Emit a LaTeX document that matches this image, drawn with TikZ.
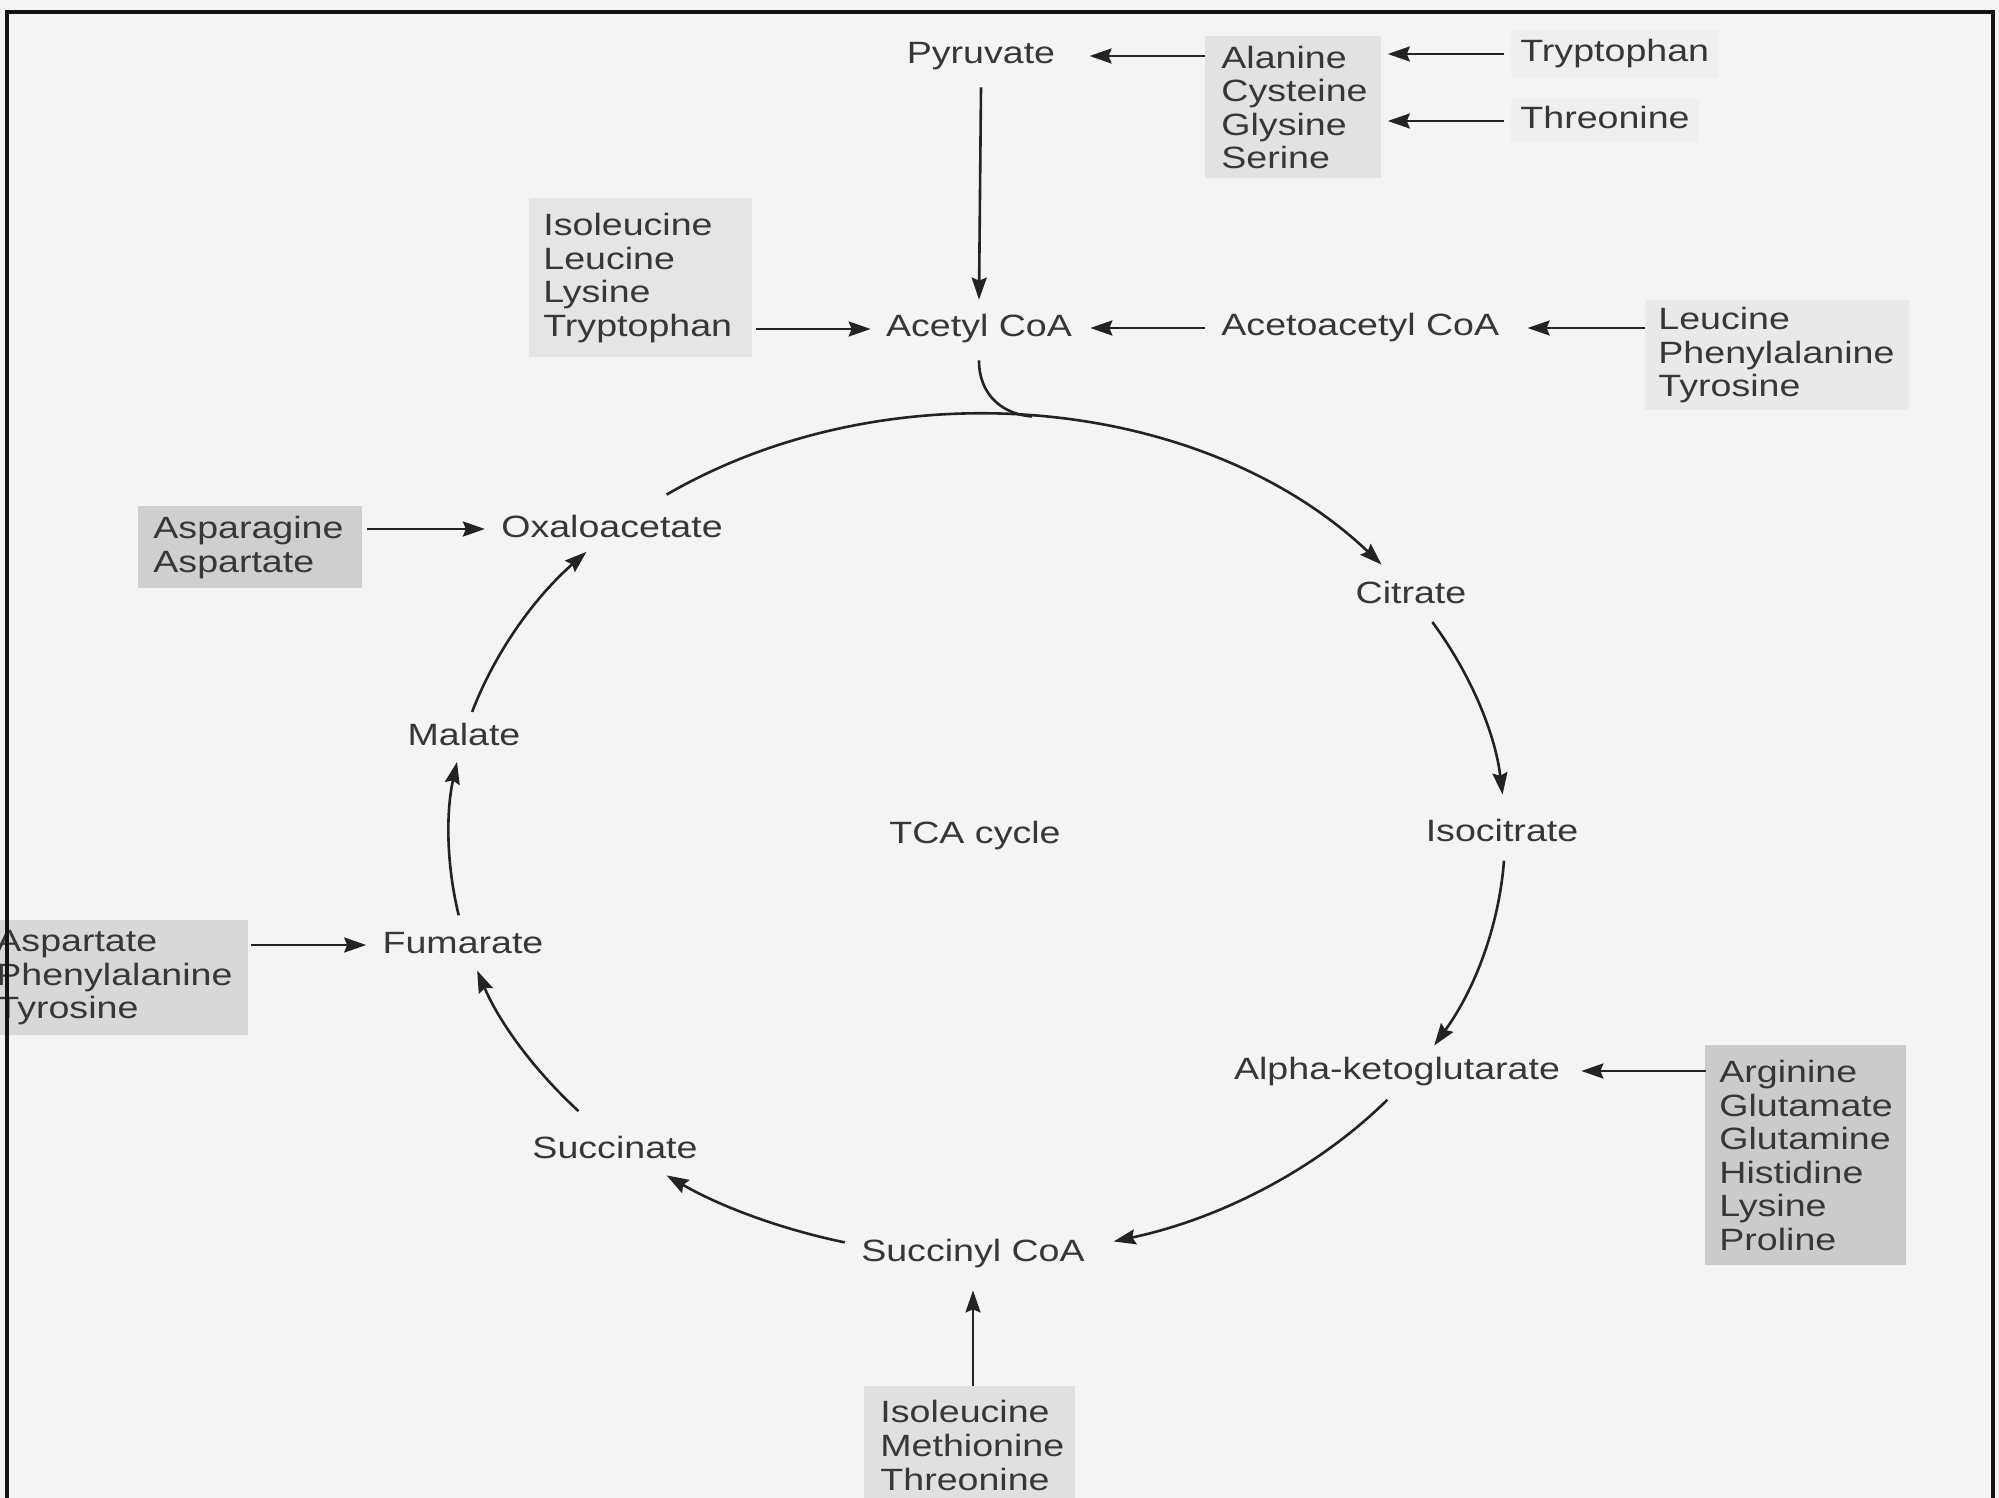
\documentclass[tikz,border=0pt]{standalone}
\usepackage{fontspec}
\setmainfont{Liberation Sans}[FakeStretch=1.22]
\usetikzlibrary{arrows.meta,calc}
\definecolor{bgc}{RGB}{244,244,244}
\definecolor{txtc}{RGB}{55,55,55}
\definecolor{linec}{RGB}{35,35,35}
\definecolor{alac}{RGB}{226,226,226}
\definecolor{isoc}{RGB}{229,229,229}
\definecolor{leuc}{RGB}{233,233,233}
\definecolor{aspc}{RGB}{207,207,207}
\definecolor{aspbc}{RGB}{216,216,216}
\definecolor{argc}{RGB}{203,203,203}
\definecolor{botc}{RGB}{224,224,224}
\definecolor{faintc}{RGB}{239,239,239}
\begin{document}
\begin{tikzpicture}[x=0.5pt,y=-0.5pt,
  txt/.style={font=\fontsize{15.4}{16.8}\selectfont, text=txtc, inner sep=0pt, text height=11pt, text depth=3pt},
  box/.style={font=\fontsize{15.4}{16.8}\selectfont, text=txtc, anchor=north west, inner ysep=0pt, align=left},
  arr/.style={draw=linec, line width=1.3pt, -{Stealth[length=11pt,width=7.5pt,inset=1.5pt]}},
  ln/.style={draw=linec, line width=1.3pt},
  cyc/.style={x radius=264pt, y radius=210.4pt},
  framel/.style={draw=black!92, line width=1.6pt}]
\useasboundingbox (0,0) rectangle (1999,1498);
\clip (0,0) rectangle (1999,1498);
\fill[bgc] (0,0) rectangle (1999,1498);

% gray boxes with amino acids
\node[box, fill=alac, text width=72pt, inner xsep=8pt, minimum height=71pt] (alabox) at (1205,36) {Alanine\\Cysteine\\Glysine\\Serine};
\node[box, fill=isoc, text width=97.5pt, inner xsep=7pt, minimum height=79.5pt] (isobox) at (529,198) {Isoleucine\\Leucine\\Lysine\\Tryptophan};
\node[box, fill=leuc, text width=119pt, inner xsep=6.5pt, minimum height=55pt] (leubox) at (1645,300) {Leucine\\Phenylalanine\\Tyrosine};
\node[box, fill=aspc, text width=97pt, inner xsep=7.5pt, minimum height=41pt] (aspbox) at (138,506) {Asparagine\\Aspartate};
\node[box, fill=aspbc, text width=116pt, inner xsep=10pt, minimum height=57.5pt] (aspbox2) at (-24,920) {Aspartate\\Phenylalanine\\Tyrosine};
\node[box, fill=argc, text width=86.5pt, inner xsep=7pt, minimum height=110pt] (argbox) at (1705,1045) {Arginine\\Glutamate\\Glutamine\\Histidine\\Lysine\\Proline};
\node[box, fill=botc, text width=89.5pt, inner xsep=8pt, minimum height=59pt] (botbox) at (864,1386) {Isoleucine\\Methionine\\Threonine};

% single labels
\node[txt, fill=faintc, anchor=west, inner xsep=4.5pt, minimum height=24pt] (trp) at (1511,54) {Tryptophan};
\node[txt, fill=faintc, anchor=west, inner xsep=4.5pt, minimum height=22pt] (thr) at (1511,121) {Threonine};
\node[txt] (pyr) at (981,56) {Pyruvate};
\node[txt] (acetyl) at (979,329) {Acetyl CoA};
\node[txt, anchor=west] (acac) at (1221,328) {Acetoacetyl CoA};
\node[txt] (oxa) at (612,529) {Oxaloacetate};
\node[txt] (cit) at (1411,595) {Citrate};
\node[txt] (iso) at (1502,833) {Isocitrate};
\node[txt] (akg) at (1397,1071) {Alpha-ketoglutarate};
\node[txt] (suc) at (973,1253) {Succinyl CoA};
\node[txt] (succ) at (615,1150) {Succinate};
\node[txt] (fum) at (463,945) {Fumarate};
\node[txt] (mal) at (464,737) {Malate};
\node[txt] (tca) at (975,835) {TCA cycle};

% straight arrows
\draw[arr] (alabox.west |- pyr) -- ([xshift=17pt]pyr.east);
\draw[arr] ([xshift=-3.5pt]trp.west) -- ([xshift=3pt]alabox.east |- trp.west);
\draw[arr] ([xshift=-3.5pt]thr.west) -- ([xshift=3pt]alabox.east |- thr.west);
\draw[arr] ([yshift=-8.5pt]pyr.south) -- ([yshift=7.5pt]acetyl.north);
\draw[arr] ([xshift=1.5pt]isobox.east |- acetyl) -- ([xshift=-7.5pt]acetyl.west);
\draw[arr] ([xshift=-8pt]acac.west) -- ([xshift=9pt]acetyl.east |- acac.west);
\draw[arr] (leubox.west |- acac) -- ([xshift=14pt]acac.east);
\draw[arr] ([xshift=2pt]aspbox.east |- oxa) -- ([xshift=-8pt]oxa.west);
\draw[arr] ([xshift=1pt]aspbox2.east |- fum) -- ([xshift=-8pt]fum.west);
\draw[arr] ([xshift=0.5pt]argbox.west |- akg) -- ([xshift=10.5pt]akg.east);
\draw[arr] (botbox.north -| suc) -- ([yshift=-11.5pt]suc.south);

% TCA cycle arcs (ellipse centre C)
\coordinate (C) at (977,835);
\path (C) ++(126:264pt and 210.4pt) coordinate (a1);
\path (C) ++(84:264pt and 210.4pt) coordinate (join);
\path (C) ++(30.4:264pt and 210.4pt) coordinate (a2);
\path (C) ++(-3.5:264pt and 210.4pt) coordinate (a3);
\path (C) ++(-39:264pt and 210.4pt) coordinate (a4);
\path (C) ++(-104.5:264pt and 210.4pt) coordinate (a5);
\path (C) ++(-139:264pt and 210.4pt) coordinate (a6);
\path (C) ++(-169:264pt and 210.4pt) coordinate (a7);
\path (C) ++(163:264pt and 210.4pt) coordinate (a8);
\draw[arr] (a1) arc[cyc, start angle=126, end angle=40];
\draw[arr] (a2) arc[cyc, start angle=30.4, end angle=5.5];
\draw[arr] (a3) arc[cyc, start angle=-3.5, end angle=-30];
\draw[arr] (a4) arc[cyc, start angle=-39, end angle=-75];
\draw[arr] (a5) arc[cyc, start angle=-104.5, end angle=-126];
\draw[arr] (a6) arc[cyc, start angle=-139, end angle=-161.2];
\draw[arr] (a7) arc[cyc, start angle=-169, end angle=-190];
\draw[arr] (a8) arc[cyc, start angle=163, end angle=137.7];
\draw[ln] ([yshift=-8.5pt]acetyl.south) .. controls +(0,-18pt) and +(-14pt,1pt) .. (join);

% frame
\coordinate (fbl) at (7,1510);
\coordinate (ftl) at (7,12);
\coordinate (ftr) at (1993,12);
\coordinate (fbr) at (1993,1510);
\draw[framel] (fbl) -- (ftl) -- (ftr) -- (fbr);
\end{tikzpicture}
\end{document}
